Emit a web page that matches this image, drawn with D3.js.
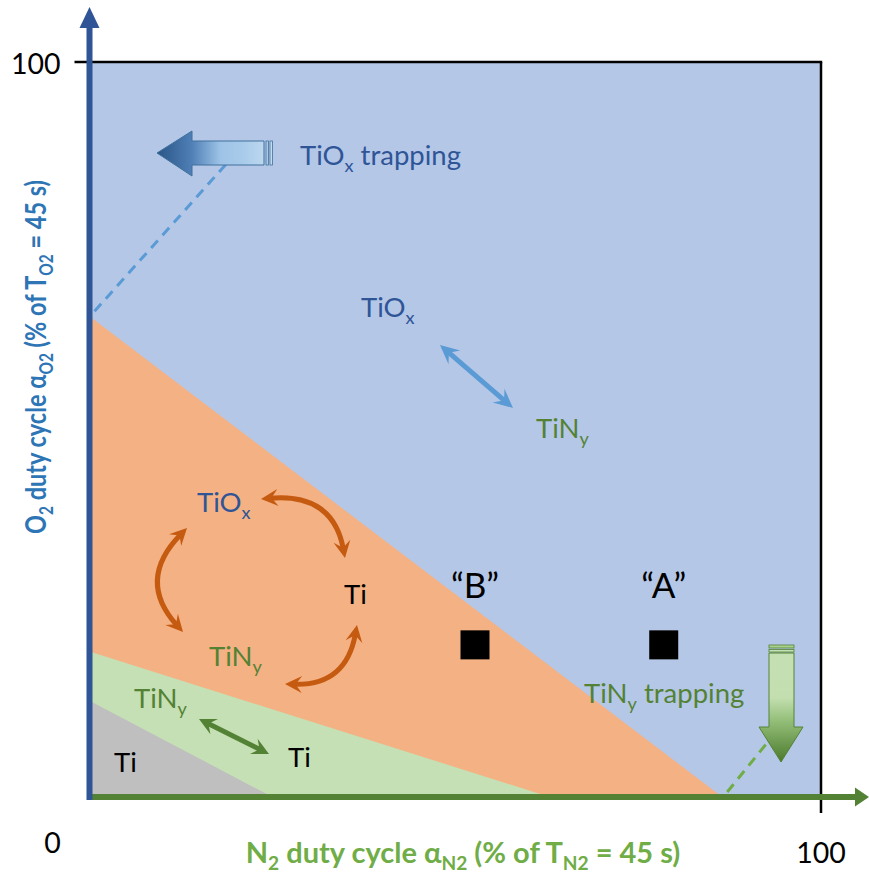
<!DOCTYPE html>
<html>
<head>
<meta charset="utf-8">
<script src="https://cdn.jsdelivr.net/npm/d3@7"></script>
<style>
  body { margin: 0; background: #fff; }
  svg { display: block; }
  text { font-family: Lato, "Open Sans", "Liberation Sans", sans-serif; }
</style>
</head>
<body>
<svg id="chart" width="869" height="875"></svg>
<script>
// ---- data: duty cycles in % of the 45 s period ----
const axisTicks = [0, 100];
// straight phase boundaries, given by their intercepts on each axis
const boundaryNames = ["TiOx | mixed", "mixed | TiNy", "TiNy | Ti"];
const boundaryN2Intercept = [86.5, 62.9, 25.0];
const boundaryO2Intercept = [65.4, 19.8, 13.1];
// operating points
const pointLabels = ["\u201CB\u201D", "\u201CA\u201D"];
const pointN2 = [52.7, 78.5];
const pointO2 = [20.7, 20.7];

// ---- styles ----
const regionColors = ["#F4B183", "#C5E0B4", "#BFBFBF"];
const fullColor = "#B4C7E7";
const blueText = "#2F5597", greenText = "#548235", orange = "#C55A11";
const labelSize = 27.5;

const svg = d3.select("#chart");
const x = d3.scaleLinear().domain([0, 100]).range([89.5, 821]);
const y = d3.scaleLinear().domain([0, 100]).range([797, 62]);

const defs = svg.append("defs");

// gradients for the block arrows
const gb = defs.append("linearGradient").attr("id", "gBlue")
  .attr("gradientUnits", "userSpaceOnUse").attr("x1", 157).attr("y1", 0).attr("x2", 272).attr("y2", 0);
[[0, "#2A5587"], [0.3, "#4F7FB6"], [0.55, "#9DC3E6"], [0.75, "#A9CBEA"], [1, "#C4DCF0"]]
  .forEach(([o, c]) => gb.append("stop").attr("offset", o).attr("stop-color", c));
const gg = defs.append("linearGradient").attr("id", "gGreen")
  .attr("gradientUnits", "userSpaceOnUse").attr("x1", 0).attr("y1", 645).attr("x2", 0).attr("y2", 762);
[[0, "#C5E0B4"], [0.45, "#C3DFB0"], [0.65, "#93BE78"], [1, "#4B7A2C"]]
  .forEach(([o, c]) => gg.append("stop").attr("offset", o).attr("stop-color", c));

// stealth arrowheads for the double arrows
function makeHead(id, color, len, half) {
  defs.append("marker").attr("id", id)
    .attr("markerUnits", "userSpaceOnUse")
    .attr("viewBox", `${-len - 2} ${-half - 2} ${len + 4} ${2 * half + 4}`)
    .attr("markerWidth", len + 4).attr("markerHeight", 2 * half + 4)
    .attr("refX", -9).attr("refY", 0)
    .attr("orient", "auto-start-reverse")
    .append("path")
    .attr("d", `M0,0 L${-len},${-half} L${-len * 0.62},0 L${-len},${half} Z`)
    .attr("fill", color);
}
makeHead("hOrange", orange, 17, 8.5);
makeHead("hBlue", "#5B9BD5", 19, 9);
makeHead("hGreen", greenText, 17, 8.5);

// ---- regions ----
svg.append("rect")
  .attr("x", x(0)).attr("y", y(100))
  .attr("width", x(100) - x(0)).attr("height", y(0) - y(100))
  .attr("fill", fullColor);

const tri = boundaryNames.map((n, i) => [[0, 0], [0, boundaryO2Intercept[i]], [boundaryN2Intercept[i], 0]]);
svg.append("g").selectAll("path").data(tri).join("path")
  .attr("d", d => d3.line().x(p => x(p[0])).y(p => y(p[1]))(d) + "Z")
  .attr("fill", (d, i) => regionColors[i]);

// frame: top and right edges extend into tick marks
svg.append("line").attr("x1", x(0) - 15).attr("x2", x(100) + 1.2)
  .attr("y1", y(100)).attr("y2", y(100)).attr("stroke", "#000").attr("stroke-width", 2.5);
svg.append("line").attr("x1", x(100)).attr("x2", x(100))
  .attr("y1", y(100)).attr("y2", y(0) + 16).attr("stroke", "#000").attr("stroke-width", 2.5);

// tick labels
svg.append("text").attr("x", x(0) - 29).attr("y", y(100) + 11.5)
  .attr("text-anchor", "end").attr("font-size", 28.5).text(axisTicks[1]);
svg.append("text").attr("x", x(100)).attr("y", y(0) + 66)
  .attr("text-anchor", "middle").attr("font-size", 28.5).text(axisTicks[1]);
svg.append("text").attr("x", x(0) - 37).attr("y", y(0) + 56)
  .attr("text-anchor", "middle").attr("font-size", 28.5).text(axisTicks[0]);

// ---- dashed leaders to the trapping arrows ----
svg.append("line").attr("x1", x(0) + 5).attr("y1", y(boundaryO2Intercept[0]) - 5)
  .attr("x2", 228).attr("y2", 162)
  .attr("stroke", "#5B9BD5").attr("stroke-width", 3).attr("stroke-dasharray", "10 7");
svg.append("line").attr("x1", x(boundaryN2Intercept[0]) + 5).attr("y1", y(0) - 5)
  .attr("x2", 767).attr("y2", 743)
  .attr("stroke", "#70AD47").attr("stroke-width", 3).attr("stroke-dasharray", "10 7");

// ---- block arrows ----
svg.append("path")
  .attr("d", "M157,153 L192,131 L192,141 L264,141 L264,165 L192,165 L192,176 Z")
  .attr("fill", "url(#gBlue)").attr("stroke", "#41719C").attr("stroke-width", 1);
svg.append("rect").attr("x", 266).attr("y", 141).attr("width", 2.5).attr("height", 24)
  .attr("fill", "#A9CBEA").attr("stroke", "#41719C").attr("stroke-width", 0.8);
svg.append("rect").attr("x", 270).attr("y", 141).attr("width", 2.5).attr("height", 24)
  .attr("fill", "#C4DCF0").attr("stroke", "#41719C").attr("stroke-width", 0.8);

svg.append("path")
  .attr("d", "M769,653 L794,653 L794,727 L803,727 L781,762 L759,727 L769,727 Z")
  .attr("fill", "url(#gGreen)").attr("stroke", "#548235").attr("stroke-width", 1);
svg.append("rect").attr("x", 769).attr("y", 645).attr("width", 25).attr("height", 3)
  .attr("fill", "#A9D18E").attr("stroke", "#548235").attr("stroke-width", 0.8);
svg.append("rect").attr("x", 769).attr("y", 649.5).attr("width", 25).attr("height", 2.5)
  .attr("fill", "#C5E0B4").attr("stroke", "#548235").attr("stroke-width", 0.8);

// ---- double arrows ----
function shorten(a, b, d) {
  const dx = b[0] - a[0], dy = b[1] - a[1], L = Math.hypot(dx, dy);
  return [a[0] + dx / L * d, a[1] + dy / L * d];
}
function curveArrow(p0, q, p2, marker, color) {
  const s = shorten(p0, q, 9), e = shorten(p2, q, 9);
  svg.append("path")
    .attr("d", `M${s[0]},${s[1]} Q${q[0]},${q[1]} ${e[0]},${e[1]}`)
    .attr("fill", "none").attr("stroke", color).attr("stroke-width", 5)
    .attr("marker-start", `url(#${marker})`).attr("marker-end", `url(#${marker})`);
}
function straightArrow(p0, p2, marker, color) {
  const s = shorten(p0, p2, 9), e = shorten(p2, p0, 9);
  svg.append("line").attr("x1", s[0]).attr("y1", s[1]).attr("x2", e[0]).attr("y2", e[1])
    .attr("stroke", color).attr("stroke-width", 5)
    .attr("marker-start", `url(#${marker})`).attr("marker-end", `url(#${marker})`);
}
curveArrow([261, 499], [333, 493], [345, 558], "hOrange", orange);
curveArrow([187, 528], [136, 580], [183, 632], "hOrange", orange);
curveArrow([357, 625], [346, 686], [285, 684], "hOrange", orange);
straightArrow([440, 345], [513, 408], "hBlue", "#5B9BD5");
straightArrow([199, 719], [269, 754], "hGreen", greenText);

// ---- species labels with subscripts ----
function rich(px, py, parts, color, size, anchor) {
  const t = svg.append("text").attr("x", px).attr("y", py)
    .attr("fill", color).attr("font-size", size).attr("text-anchor", anchor || "start");
  let shifted = false;
  parts.forEach(([s, sub]) => {
    const ts = t.append("tspan").text(s).attr("font-size", sub ? size * 0.66 : size);
    if (sub && !shifted) { ts.attr("dy", size * 0.25); shifted = true; }
    else if (!sub && shifted) { ts.attr("dy", -size * 0.25); shifted = false; }
  });
  return t;
}
const TiOx = [["TiO"], ["x", true]];
const TiNy = [["TiN"], ["y", true]];
rich(300, 165, [...TiOx, [" trapping"]], blueText, labelSize);
rich(361, 317, TiOx, blueText, labelSize);
rich(536, 438, TiNy, greenText, labelSize);
rich(197, 512, TiOx, blueText, labelSize);
rich(344, 604, [["Ti"]], "#000", labelSize);
rich(209, 666, TiNy, greenText, labelSize);
rich(134, 708, TiNy, greenText, labelSize);
rich(288, 767, [["Ti"]], "#000", labelSize);
rich(114, 772, [["Ti"]], "#000", labelSize);
rich(584, 703, [...TiNy, [" trapping"]], greenText, labelSize);

// ---- operating points ----
const pts = pointLabels.map((l, i) => ({ l, n: pointN2[i], o: pointO2[i] }));
svg.append("g").selectAll("rect").data(pts).join("rect")
  .attr("x", d => x(d.n) - 14.5).attr("y", d => y(d.o) - 14.5)
  .attr("width", 29).attr("height", 29).attr("fill", "#000");
svg.append("g").selectAll("text").data(pts).join("text")
  .attr("x", d => x(d.n)).attr("y", d => y(d.o) - 47)
  .attr("text-anchor", "middle").attr("font-size", 35).text(d => d.l);

// ---- axes with arrowheads ----
svg.append("line").attr("x1", x(0)).attr("x2", 858).attr("y1", y(0)).attr("y2", y(0))
  .attr("stroke", greenText).attr("stroke-width", 6);
svg.append("path").attr("d", `M869,${y(0)} L855,${y(0) - 9.5} L855,${y(0) + 9.5} Z`).attr("fill", greenText);
svg.append("line").attr("x1", x(0)).attr("x2", x(0)).attr("y1", y(0) + 3).attr("y2", 25)
  .attr("stroke", blueText).attr("stroke-width", 6);
svg.append("path").attr("d", `M${x(0)},7 L${x(0) - 10},28 L${x(0) + 10},28 Z`).attr("fill", blueText);

// ---- axis titles ----
rich(463, 863,
  [["N"], ["2", true], [" duty cycle \u03B1"], ["N2", true], [" (% of T"], ["N2", true], [" = 45 s)"]],
  "#70AD47", 29, "middle").attr("font-weight", "bold");
rich(0, 0,
  [["O"], ["2", true], [" duty cycle \u03B1"], ["O2", true], [" (% of T"], ["O2", true], [" = 45 s)"]],
  "#2E75B6", 29, "middle").attr("font-weight", "bold")
  .attr("transform", "translate(46,357) rotate(-90) scale(0.81,1)");
</script>
</body>
</html>
